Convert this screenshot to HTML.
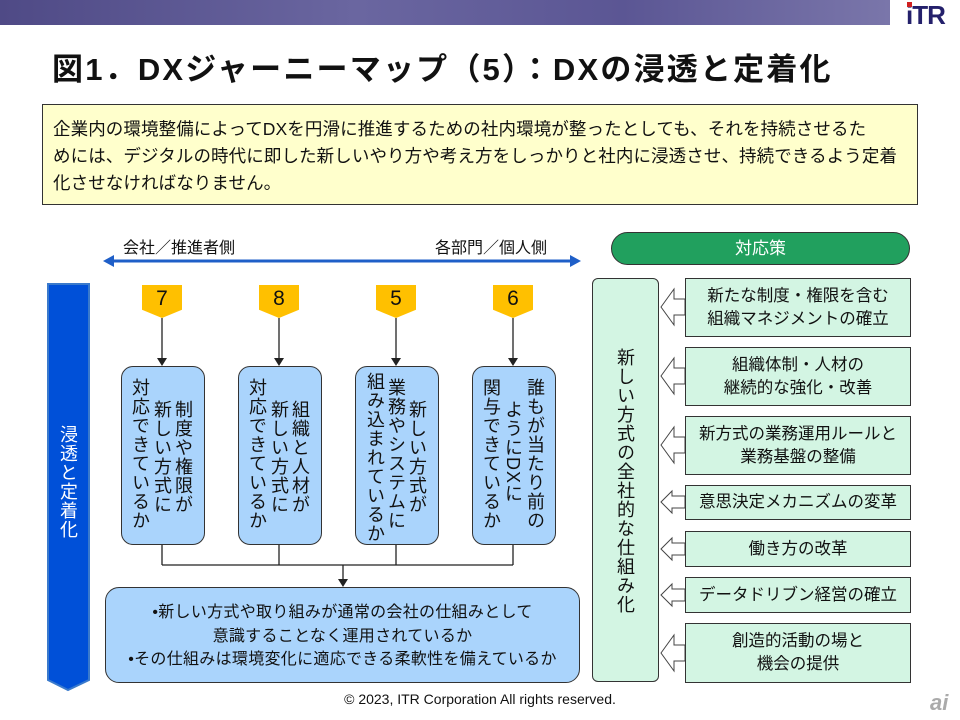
<!DOCTYPE html>
<html><head><meta charset="utf-8"><style>
body{margin:0;width:960px;height:720px;position:relative;background:#fff;font-family:"Liberation Sans","Noto Sans CJK JP",sans-serif;overflow:hidden;color:#111}
.a{position:absolute}
.c{position:absolute;writing-mode:vertical-rl;font-size:18px;line-height:20px;letter-spacing:1px;white-space:nowrap;width:20px}
.rb{position:absolute;left:685px;width:226px;background:#d3f5e3;border:1px solid #333;box-sizing:border-box;display:flex;align-items:center;justify-content:center;text-align:center;font-size:16.5px;line-height:23px;white-space:nowrap}
.tag{position:absolute;top:285px;width:40px;height:33px;background:#ffc000;clip-path:polygon(0 0,100% 0,100% 75%,50% 100%,0 75%);text-align:center;font-size:21px;line-height:27px}
.box{position:absolute;top:366px;width:84px;height:179px;background:#aad4fc;border:1px solid #333;border-radius:12px;box-sizing:border-box}
</style></head><body>
<div class="a" style="left:0;top:0;width:890px;height:25px;background:linear-gradient(90deg,#4f4a86,#6a66a0 40%,#5b5694 70%,#7a76aa)"></div>
<div class="a" style="left:906px;top:0;font-size:26px;font-weight:bold;color:#24206b;letter-spacing:-1px">iTR</div>
<div class="a" style="left:907px;top:2px;width:5px;height:5px;background:#d02020"></div>
<div class="a" style="left:52px;top:44px;font-size:31px;font-weight:bold;letter-spacing:2.2px;white-space:nowrap">図1．DXジャーニーマップ（5）：DXの浸透と定着化</div>
<div class="a" style="left:42px;top:104px;width:876px;height:101px;background:#ffffcc;border:1px solid #333;box-sizing:border-box;padding:11px 0 0 10px;font-size:17.5px;line-height:27px;letter-spacing:0.1px;white-space:nowrap">企業内の環境整備によってDXを円滑に推進するための社内環境が整ったとしても、それを持続させるた<br>めには、デジタルの時代に即した新しいやり方や考え方をしっかりと社内に浸透させ、持続できるよう定着<br>化させなければなりません。</div>
<div class="a" style="left:123px;top:234px;font-size:16px">会社／推進者側</div>
<div class="a" style="left:435px;top:234px;font-size:16px">各部門／個人側</div>
<svg class="a" style="left:0;top:0" width="960" height="720">
<line x1="112" y1="261" x2="572" y2="261" stroke="#1f5fc8" stroke-width="3"/>
<polygon points="103,261 114,255 114,267" fill="#1f5fc8"/><polygon points="581,261 570,255 570,267" fill="#1f5fc8"/>
<polygon points="48,284 89,284 89,680 68,690 48,680" fill="#0050d8" stroke="#3a7acc" stroke-width="2"/>
<g stroke="#222" stroke-width="1.3" fill="#222">
<line x1="162" y1="318" x2="162" y2="358"/><polygon points="157,358 167,358 162,366" stroke="none"/>
<line x1="279" y1="318" x2="279" y2="358"/><polygon points="274,358 284,358 279,366" stroke="none"/>
<line x1="396" y1="318" x2="396" y2="358"/><polygon points="391,358 401,358 396,366" stroke="none"/>
<line x1="513" y1="318" x2="513" y2="358"/><polygon points="508,358 518,358 513,366" stroke="none"/>
<line x1="162" y1="545" x2="162" y2="565"/><line x1="279" y1="545" x2="279" y2="565"/><line x1="396" y1="545" x2="396" y2="565"/><line x1="513" y1="545" x2="513" y2="565"/>
<line x1="162" y1="565" x2="513" y2="565" fill="none"/>
<line x1="343" y1="565" x2="343" y2="580"/><polygon points="338,579 348,579 343,587" stroke="none"/>
</g>
<g fill="#fff" stroke="#444" stroke-width="1">
<polygon points="661,307 674,289 674,299 685,299 685,315 674,315 674,325"/>
<polygon points="661,376 674,358 674,368 685,368 685,384 674,384 674,394"/>
<polygon points="661,445 674,427 674,437 685,437 685,453 674,453 674,463"/>
<polygon points="661,502 672,491 672,496 685,496 685,508 672,508 672,513"/>
<polygon points="661,549 672,538 672,543 685,543 685,555 672,555 672,560"/>
<polygon points="661,595 672,584 672,589 685,589 685,601 672,601 672,606"/>
<polygon points="661,653 674,635 674,645 685,645 685,661 674,661 674,671"/>
</g>
</svg>
<div class="c" style="left:58px;top:425px;color:#fff">浸透と定着化</div>
<div class="tag" style="left:142px">7</div><div class="tag" style="left:259px">8</div><div class="tag" style="left:376px">5</div><div class="tag" style="left:493px">6</div>
<div class="box" style="left:121px"></div><div class="box" style="left:238px"></div><div class="box" style="left:355px"></div><div class="box" style="left:472px"></div>
<div class="c" style="left:173px;top:400px">制度や権限が</div>
<div class="c" style="left:152px;top:400px">新しい方式に</div>
<div class="c" style="left:130px;top:378px">対応できているか</div>
<div class="c" style="left:290px;top:400px">組織と人材が</div>
<div class="c" style="left:269px;top:400px">新しい方式に</div>
<div class="c" style="left:247px;top:378px">対応できているか</div>
<div class="c" style="left:407px;top:400px">新しい方式が</div>
<div class="c" style="left:386px;top:378px">業務やシステムに</div>
<div class="c" style="left:365px;top:372px">組み込まれているか</div>
<div class="c" style="left:525px;top:378px">誰もが当たり前の</div>
<div class="c" style="left:503px;top:400px">ようにDXに</div>
<div class="c" style="left:481px;top:378px">関与できているか</div>
<div class="a" style="left:105px;top:587px;width:475px;height:96px;background:#aad4fc;border:1px solid #333;border-radius:14px;box-sizing:border-box;text-align:center;font-size:16px;line-height:23.5px;padding-top:13px;white-space:nowrap;letter-spacing:0.3px">•新しい方式や取り組みが通常の会社の仕組みとして<br>意識することなく運用されているか<br>•その仕組みは環境変化に適応できる柔軟性を備えているか</div>
<div class="a" style="left:611px;top:232px;width:299px;height:33px;background:#21a05e;border:1px solid #333;border-radius:17px;box-sizing:border-box;color:#fff;text-align:center;font-size:17px;line-height:31px">対応策</div>
<div class="a" style="left:592px;top:278px;width:67px;height:404px;background:#d3f5e3;border:1px solid #333;border-radius:6px;box-sizing:border-box"></div>
<div class="c" style="left:615px;top:348px">新しい方式の全社的な仕組み化</div>
<div class="rb" style="top:278px;height:59px">新たな制度・権限を含む<br>組織マネジメントの確立</div>
<div class="rb" style="top:347px;height:59px">組織体制・人材の<br>継続的な強化・改善</div>
<div class="rb" style="top:416px;height:59px">新方式の業務運用ルールと<br>業務基盤の整備</div>
<div class="rb" style="top:485px;height:35px">意思決定メカニズムの変革</div>
<div class="rb" style="top:531px;height:36px">働き方の改革</div>
<div class="rb" style="top:577px;height:36px">データドリブン経営の確立</div>
<div class="rb" style="top:623px;height:60px">創造的活動の場と<br>機会の提供</div>
<div class="a" style="left:0;width:960px;top:691px;text-align:center;font-size:14px">© 2023, ITR Corporation All rights reserved.</div>
<div class="a" style="left:930px;top:690px;font-size:22px;font-style:italic;font-weight:bold;color:#aaa">ai</div>
</body></html>
